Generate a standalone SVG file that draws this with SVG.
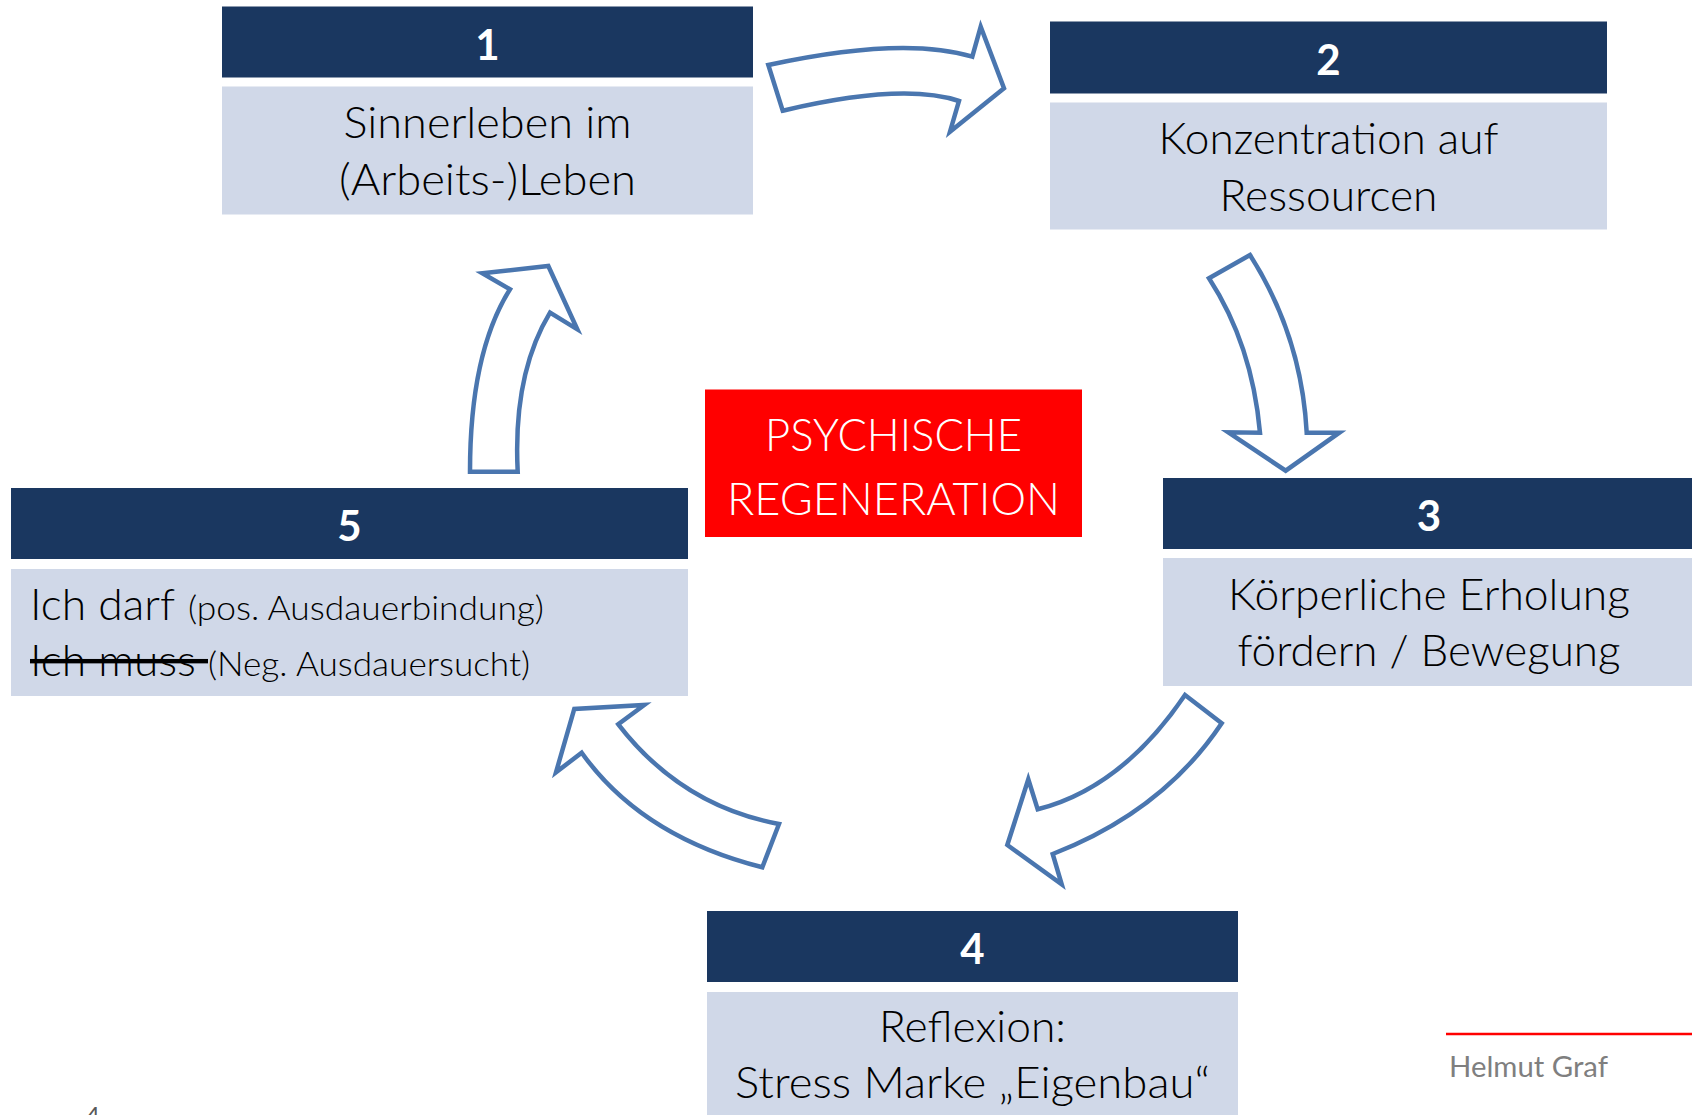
<svg xmlns="http://www.w3.org/2000/svg" width="1692" height="1115" viewBox="0 0 1692 1115">
<style>
.hdr{fill:#1A3760}
.body{fill:#D0D8E8}
.num{font-family:Lato,"Open Sans","Liberation Sans",sans-serif;font-weight:700;font-size:42px;fill:#FFFFFF;text-anchor:middle}
.txt{font-family:Lato,"Open Sans","Liberation Sans",sans-serif;font-weight:300;font-size:44px;fill:#000000;text-anchor:middle}
.txtl{font-family:Lato,"Open Sans","Liberation Sans",sans-serif;font-weight:300;fill:#000000}
.red{font-family:Lato,"Open Sans","Liberation Sans",sans-serif;font-weight:300;font-size:46px;fill:#FFFFFF;text-anchor:middle}
.arrow{fill:#FFFFFF;stroke:#4A76AF;stroke-width:4.5;stroke-linejoin:miter}
</style>
<rect width="1692" height="1115" fill="#FFFFFF"/>
<g id="connectors">
<path class="arrow" d="M768.3,65 Q903,35.8 972.3,56.7 L980.7,26.7 L1004,88.3 L950,131.7 L959,101 Q902.5,82.2 782.7,110.7 Z"/>
<path class="arrow" d="M1209,278.3 L1250,255 Q1301.7,336.2 1306.7,432.7 L1339.3,432.7 L1285.7,470.7 L1228.3,432.3 L1260,432.7 Q1252.1,344.5 1209,278.3 Z"/>
<path class="arrow" d="M1185,695 L1221.7,723.3 Q1162.8,811.4 1052.7,854 L1061.7,884.3 L1007.3,845 L1028.3,779.3 L1037.7,809.3 Q1122,787.9 1185,695 Z"/>
<path class="arrow" d="M779,824 L762.3,867.3 Q641.4,836.6 581.7,752.7 L556,772.3 L574.3,709 L644.3,705 L618.3,724.3 Q681.4,805.9 779,824 Z"/>
<path class="arrow" d="M470,471.7 L517.7,471.7 Q512.8,374.4 550,312.7 L577.3,329.3 L548.3,266 L482.3,273.3 L510,289.3 Q470,352.9 470,471.7 Z"/>
</g>
<g id="node1">
<rect class="hdr" x="222" y="6.5" width="531" height="71"/>
<rect class="body" x="222" y="86.5" width="531" height="128"/>
<text class="num" x="487.5" y="59.5">1</text>
<text class="txt" x="487.5" y="137.5" textLength="288" lengthAdjust="spacingAndGlyphs">Sinnerleben im</text>
<text class="txt" x="487.5" y="195" textLength="297" lengthAdjust="spacingAndGlyphs">(Arbeits-)Leben</text>
</g>
<g id="node2">
<rect class="hdr" x="1050" y="21.5" width="557" height="72"/>
<rect class="body" x="1050" y="102.5" width="557" height="127"/>
<text class="num" x="1328.5" y="74.5">2</text>
<text class="txt" x="1328.5" y="153.5" textLength="340" lengthAdjust="spacingAndGlyphs">Konzentration auf</text>
<text class="txt" x="1328.5" y="211" textLength="218" lengthAdjust="spacingAndGlyphs">Ressourcen</text>
</g>
<g id="node3">
<rect class="hdr" x="1163" y="478" width="540" height="71"/>
<rect class="body" x="1163" y="558" width="540" height="128"/>
<text class="num" x="1429" y="531">3</text>
<text class="txt" x="1429" y="610" textLength="402" lengthAdjust="spacingAndGlyphs">Körperliche Erholung</text>
<text class="txt" x="1429" y="666" textLength="383" lengthAdjust="spacingAndGlyphs">fördern / Bewegung</text>
</g>
<g id="node4">
<rect class="hdr" x="707" y="911" width="531" height="71"/>
<rect class="body" x="707" y="992" width="531" height="130"/>
<text class="num" x="972.5" y="964">4</text>
<text class="txt" x="972.5" y="1042" textLength="187" lengthAdjust="spacingAndGlyphs">Reflexion:</text>
<text class="txt" x="972.5" y="1098" textLength="475" lengthAdjust="spacingAndGlyphs">Stress Marke „Eigenbau“</text>
</g>
<g id="node5">
<rect class="hdr" x="11" y="488" width="677" height="71"/>
<rect class="body" x="11" y="569" width="677" height="127"/>
<text class="num" x="349.5" y="541">5</text>
<text class="txtl" x="30" y="620"><tspan font-size="44px" textLength="145" lengthAdjust="spacingAndGlyphs">Ich darf</tspan><tspan x="188" font-size="34px" textLength="356" lengthAdjust="spacingAndGlyphs">(pos. Ausdauerbindung)</tspan></text>
<text class="txtl" x="30" y="675.5"><tspan font-size="44px" text-decoration="line-through" textLength="178" lengthAdjust="spacingAndGlyphs">Ich muss </tspan><tspan x="208" font-size="34px" textLength="322" lengthAdjust="spacingAndGlyphs">(Neg. Ausdauersucht)</tspan></text>
</g>
<g id="center">
<rect x="705" y="389.5" width="377" height="147.5" fill="#FF0000"/>
<text class="red" x="893.5" y="451" textLength="257" lengthAdjust="spacingAndGlyphs">PSYCHISCHE</text>
<text class="red" x="893.5" y="515" textLength="333" lengthAdjust="spacingAndGlyphs">REGENERATION</text>
</g>
<g id="footer">
<line x1="1446" y1="1034" x2="1692" y2="1034" stroke="#FF0000" stroke-width="2.5"/>
<text x="1449" y="1077" font-family="Lato,'Open Sans','Liberation Sans',sans-serif" font-size="28px" fill="#7F7F7F" textLength="159" lengthAdjust="spacingAndGlyphs">Helmut Graf</text>
<text x="86" y="1124" font-family="Lato,'Open Sans','Liberation Sans',sans-serif" font-size="24px" fill="#595959">4</text>
</g>
</svg>
